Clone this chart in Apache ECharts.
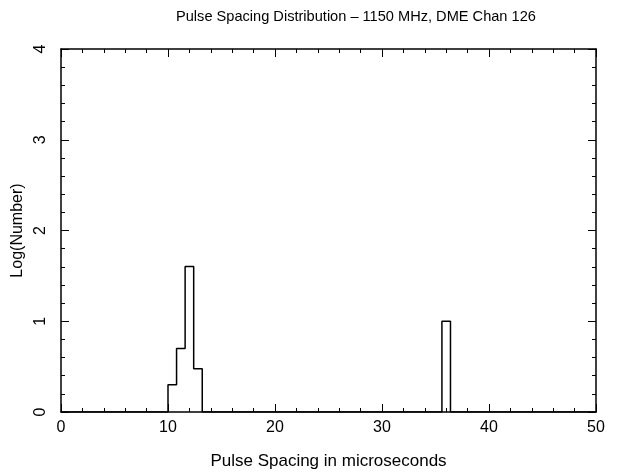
<!DOCTYPE html>
<html>
<head>
<meta charset="utf-8">
<script src="https://cdn.jsdelivr.net/npm/echarts@6/dist/echarts.min.js"></script>
<style>
html,body{margin:0;padding:0;background:#fff;}
#chart{width:619px;height:475px;}
</style>
</head>
<body>
<div id="chart"></div>
<script>
// Histogram bins (pulse spacing, microseconds) and log10(count)
const binStarts = [10.0, 10.8, 11.6, 12.4, 35.6];
const binWidth = 0.8;
const logCounts = [0.301, 0.699, 1.602, 0.477, 1.0];
const xTicks = [0, 10, 20, 30, 40, 50];
const yTicks = [0, 1, 2, 3, 4];

// Build step outline from bins
const pts = [[0, 0]];
for (let i = 0; i < binStarts.length; i++) {
  const s = binStarts[i], e = s + binWidth, h = logCounts[i];
  const prevAdj = i > 0 && Math.abs(binStarts[i - 1] + binWidth - s) < 1e-6;
  const nextAdj = i < binStarts.length - 1 && Math.abs(binStarts[i + 1] - e) < 1e-6;
  if (!prevAdj) pts.push([s, 0]);
  pts.push([s, h]);
  pts.push([e, h]);
  if (!nextAdj) pts.push([e, 0]);
}
pts.push([50, 0]);

const font = 'Liberation Sans, Arial, sans-serif';
const axisCommon = {
  min: 0,
  axisLine: {show: true, onZero: false, lineStyle: {color: '#000', width: 1.5}},
  axisTick: {show: true, inside: true, length: 8, lineStyle: {color: '#000', width: 1}},
  minorTick: {show: true, splitNumber: 5, length: 4, lineStyle: {color: '#000', width: 1}},
  splitLine: {show: false}
};

const chart = echarts.init(document.getElementById('chart'), null, {renderer: 'canvas'});
chart.setOption({
  animation: false,
  backgroundColor: '#fff',
  title: {
    text: 'Pulse Spacing Distribution \u2013 1150 MHz, DME Chan 126',
    left: 171, top: 4,
    textStyle: {fontFamily: font, fontSize: 14.6, fontWeight: 'normal', color: '#000'}
  },
  grid: {left: 61, right: 23, top: 49, bottom: 62},
  xAxis: [
    Object.assign({}, axisCommon, {
      type: 'value', max: 50, interval: 10, position: 'bottom',
      name: 'Pulse Spacing in microseconds', nameLocation: 'middle', nameGap: 41,
      nameTextStyle: {fontFamily: font, fontSize: 17, color: '#000'},
      axisLabel: {fontFamily: font, fontSize: 16, color: '#000', margin: 8,
        formatter: v => xTicks.includes(v) ? String(v) : ''}
    }),
    Object.assign({}, axisCommon, {
      type: 'value', max: 50, interval: 10, position: 'top',
      axisLabel: {show: false}
    })
  ],
  yAxis: [
    Object.assign({}, axisCommon, {
      type: 'value', max: 4, interval: 1, position: 'left',
      name: 'Log(Number)', nameLocation: 'middle', nameGap: 30,
      nameTextStyle: {fontFamily: font, fontSize: 16, color: '#000'},
      axisLabel: {fontFamily: font, fontSize: 16, color: '#000', rotate: 90, margin: 12,
        formatter: v => yTicks.includes(v) ? String(v) : ''}
    }),
    Object.assign({}, axisCommon, {
      type: 'value', max: 4, interval: 1, position: 'right',
      axisLabel: {show: false}
    })
  ],
  series: [{
    type: 'line',
    data: pts,
    xAxisIndex: 0, yAxisIndex: 0,
    showSymbol: false,
    lineStyle: {color: '#000', width: 1.5},
    silent: true
  }]
});
</script>
</body>
</html>
